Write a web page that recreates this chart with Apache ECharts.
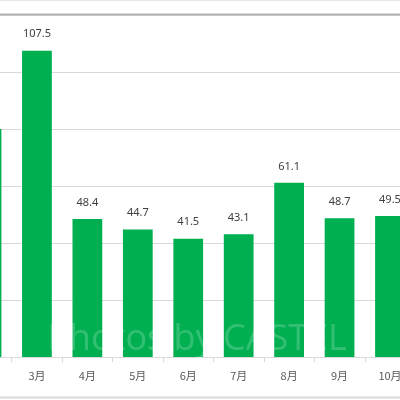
<!DOCTYPE html>
<html>
<head>
<meta charset="utf-8">
<style>html,body{margin:0;padding:0;background:#fff;overflow:hidden;width:400px;height:400px;position:relative;}#c{position:absolute;left:-39px;top:0;width:460px;height:400px;}</style>
<script src="https://cdn.jsdelivr.net/npm/echarts@6/dist/echarts.min.js"></script>
</head>
<body>
<div id="c"></div>
<script>
const categories = ['2月','3月','4月','5月','6月','7月','8月','9月','10月'];
const values = [80, 107.5, 48.4, 44.7, 41.5, 43.1, 61.1, 48.7, 49.5];
const yTicks = [0, 20, 40, 60, 80, 100, 120];

const chart = echarts.init(document.getElementById('c'), null, {renderer: 'canvas'});
chart.setOption({
  animation: false,
  backgroundColor: '#ffffff',
  grid: {left: 0.3, top: 15, width: 453.9, height: 342},
  xAxis: {
    type: 'category',
    data: categories,
    axisLine: {lineStyle: {color: '#d9d9d9', width: 1}},
    axisTick: {show: true, length: 5, lineStyle: {color: '#d9d9d9'}},
    axisLabel: {color: '#595959', fontSize: 11, margin: 13, fontFamily: 'Noto Sans CJK JP'}
  },
  yAxis: {
    type: 'value',
    min: yTicks[0], max: yTicks[yTicks.length - 1], interval: 20,
    axisLine: {show: false}, axisTick: {show: false}, axisLabel: {show: false},
    splitLine: {lineStyle: {color: '#d9d9d9', width: 1}}
  },
  series: [{
    type: 'bar',
    data: values,
    barWidth: '59%',
    itemStyle: {color: '#00b050'},
    label: {show: true, position: 'top', distance: 11, color: '#404040', fontSize: 11, fontFamily: 'Noto Sans', formatter: p => p.value.toFixed(1)}
  }],
  graphic: [
    {type: 'rect', shape: {x: 0, y: 13.5, width: 460, height: 2}, style: {fill: '#b4b4b4'}, z: 10},
    {type: 'rect', shape: {x: 0, y: 0, width: 460, height: 1}, style: {fill: '#e6e6e6'}, z: 10},
    {type: 'rect', shape: {x: 0, y: 396.5, width: 460, height: 2}, style: {fill: '#d9d9d9'}, z: 10},
    {type: 'text', x: 236, y: 358, z: 20, style: {text: 'Photos by CASTEL', fill: 'rgba(255,255,255,0.2)', font: '36px "Open Sans"', align: 'center', verticalAlign: 'bottom'}}
  ]
});
</script>
</body>
</html>
